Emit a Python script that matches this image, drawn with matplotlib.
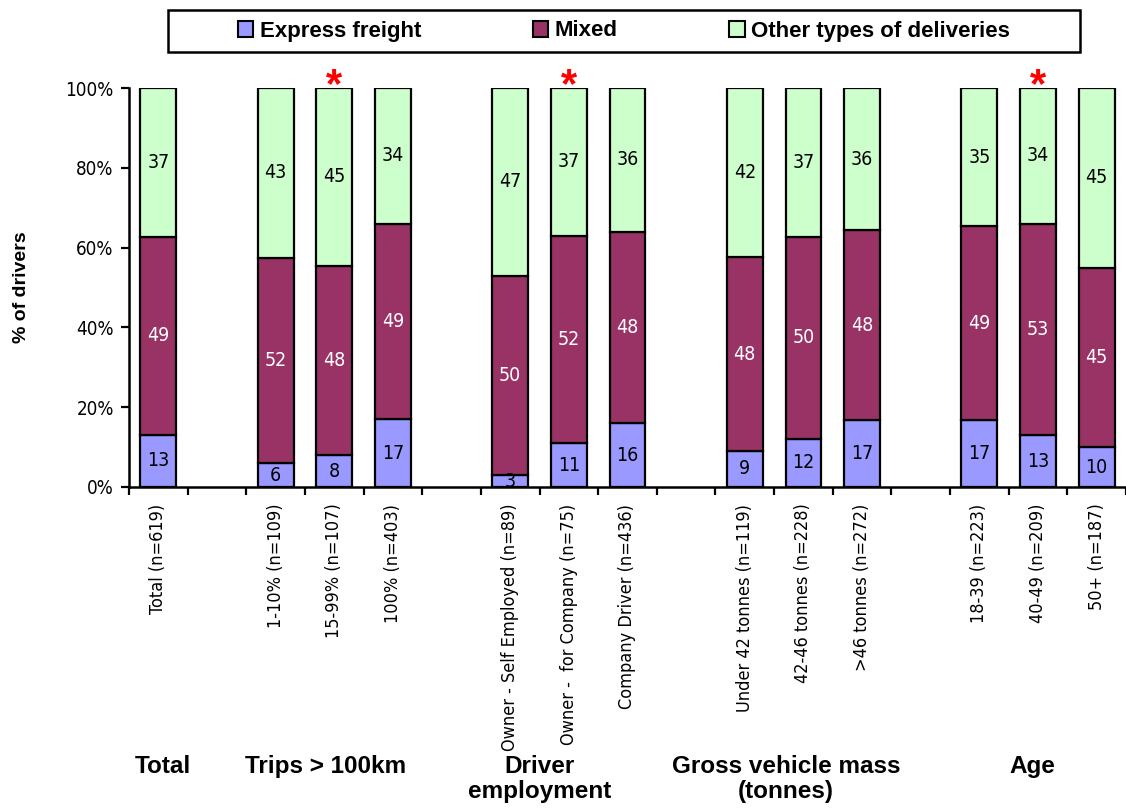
import matplotlib
matplotlib.use("Agg")
import matplotlib.pyplot as plt
from matplotlib.patches import Patch, Rectangle
import matplotlib.transforms as mtransforms
import numpy as np

# Bar categories (empty strings are spacer slots between groups)
categories = [
    "Total (n=619)", "",
    "1-10% (n=109)", "15-99% (n=107)", "100% (n=403)", "",
    "Owner - Self Employed (n=89)", "Owner -  for Company (n=75)", "Company Driver (n=436)", "",
    "Under 42 tonnes (n=119)", "42-46 tonnes (n=228)", ">46 tonnes (n=272)", "",
    "18-39 (n=223)", "40-49 (n=209)", "50+ (n=187)",
]
express = [13, None, 6, 8, 17, None, 3, 11, 16, None, 9, 12, 17, None, 17, 13, 10]
mixed   = [49, None, 52, 48, 49, None, 50, 52, 48, None, 48, 50, 48, None, 49, 53, 45]
other   = [37, None, 43, 45, 34, None, 47, 37, 36, None, 42, 37, 36, None, 35, 34, 45]
significant = ["15-99% (n=107)", "Owner -  for Company (n=75)", "40-49 (n=209)"]

groups = ["Total", "Trips > 100km", "Driver\nemployment", "Gross vehicle mass\n(tonnes)", "Age"]
group_x = [0.07, 2.85, 6.5, 10.7, 14.9]

series_names = ["Express freight", "Mixed", "Other types of deliveries"]
colors = ["#9999FF", "#993366", "#CCFFCC"]
label_colors = ["black", "white", "black"]

narrow = dict(family="DejaVu Sans", stretch="condensed")
bold_font = ["Liberation Sans", "DejaVu Sans"]

W, H = 1126, 808
fig = plt.figure(figsize=(W / 100, H / 100), dpi=100)
ax = fig.add_axes([129 / W, 1 - 487 / H, 1 - 129 / W, (487 - 88) / H])

x = np.arange(len(categories))
width = 0.61
for i, cat in enumerate(categories):
    if express[i] is None:
        continue
    vals = [express[i], mixed[i], other[i]]
    total = sum(vals)
    bottom = 0.0
    for v, c, lc in zip(vals, colors, label_colors):
        h = v / total * 100
        ax.bar(x[i], h, width=width, bottom=bottom, color=c,
               edgecolor="black", linewidth=1.6, zorder=2)
        ax.text(x[i], bottom + h / 2, f"{v}", ha="center", va="center",
                color=lc, fontsize=14, zorder=3, **narrow)
        bottom += h
    if cat in significant:
        ax.text(x[i], 97.6, "*", ha="center", va="baseline", color="red",
                fontsize=30, fontweight="bold", family=bold_font,
                clip_on=False, zorder=4)

ax.set_xlim(-0.5, len(categories) - 0.5)
ax.set_ylim(0, 100)
ax.set_yticks(np.arange(0, 101, 20))
ax.set_yticklabels([f"{v}%" for v in range(0, 101, 20)], fontsize=13.5, **narrow)
ax.set_xticks(np.arange(-0.5, len(categories), 1.0))
ax.set_xticklabels([])
ax.set_xticks(x, minor=True)
ax.set_xticklabels(categories, minor=True, rotation=90, fontsize=13,
                   va="top", ha="center", **narrow)
ax.tick_params(axis="x", which="minor", length=0, pad=12)
ax.tick_params(axis="x", which="major", length=6, width=1.6, direction="out")
ax.tick_params(axis="y", length=6, width=1.6, direction="out", pad=5)
for s in ["top", "right"]:
    ax.spines[s].set_visible(False)
for s in ["left", "bottom"]:
    ax.spines[s].set_linewidth(1.8)

fig.text(22 / W, 1 - 287 / H, "% of drivers", rotation=90, ha="center",
         va="center", fontsize=14, fontweight="bold", family=bold_font)

trans = mtransforms.blended_transform_factory(ax.transData, fig.transFigure)
for g, gx in zip(groups, group_x):
    ax.text(gx, 1 - 755 / H, g, transform=trans, ha="center", va="top",
            fontsize=17.5, fontweight="bold", family=bold_font,
            linespacing=1.1, clip_on=False)

# Legend frame drawn as a plain rectangle, entries placed inside it
fig.patches.append(Rectangle((168 / W, 1 - 52 / H), (1080 - 168) / W, 42 / H,
                             transform=fig.transFigure, facecolor="white",
                             edgecolor="black", linewidth=1.8))
handles = [Patch(facecolor=c, edgecolor="black", linewidth=1.5) for c in colors]
leg = fig.legend(handles, series_names, ncol=3, loc="center",
                 bbox_to_anchor=((168 + 1080) / 2 / W, 1 - 31 / H),
                 prop={"family": bold_font, "weight": "bold", "size": 16},
                 frameon=False, handlelength=0.7, handleheight=0.7,
                 handletextpad=0.3, columnspacing=5.0, borderpad=0,
                 borderaxespad=0)

fig.savefig("out.png", dpi=100)
